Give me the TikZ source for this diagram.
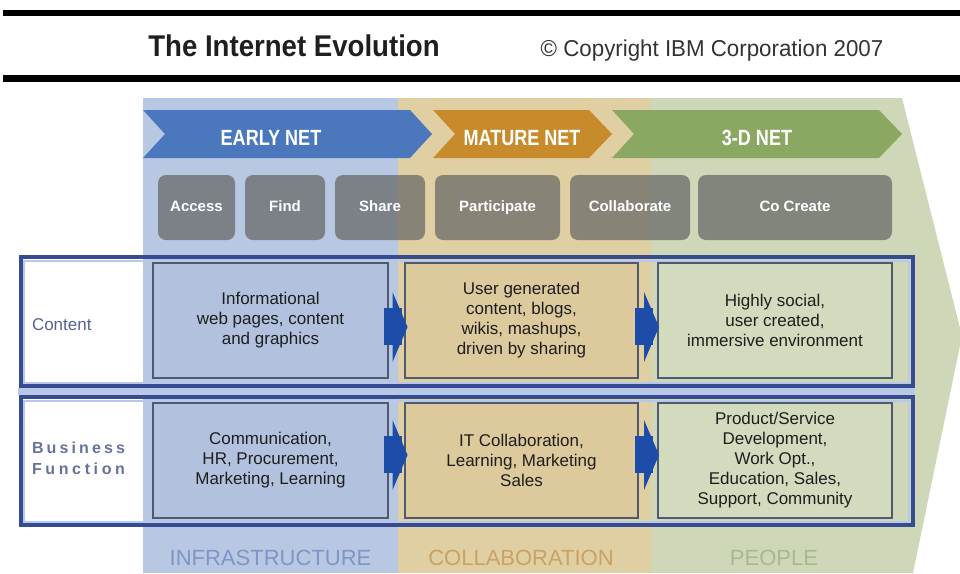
\documentclass[tikz,border=0pt]{standalone}
\usepackage{fontspec}
\setmainfont{Liberation Sans}
\usetikzlibrary{calc}
\definecolor{bgblue}{HTML}{B8C8E2}
\definecolor{bgtan}{HTML}{E0CFA3}
\definecolor{bggreen}{HTML}{CED8B8}
\definecolor{fillblue}{HTML}{B2C2DE}
\definecolor{filltan}{HTML}{DCC99C}
\definecolor{fillgreen}{HTML}{D3DBBE}
\definecolor{inborder}{HTML}{4F5A6E}
\definecolor{banblue}{HTML}{4B78BD}
\definecolor{banorange}{HTML}{C78B2C}
\definecolor{bangreen}{HTML}{8BA862}
\definecolor{btngray}{HTML}{666666}
\definecolor{arrblue}{HTML}{1D4DA8}
\definecolor{outdark}{HTML}{354C92}
\definecolor{outlight}{HTML}{B9C8E6}
\definecolor{textdark}{HTML}{1E1E1E}
\definecolor{labelblue}{HTML}{55628F}
\definecolor{infracol}{HTML}{7F95C8}
\definecolor{collabcol}{HTML}{C9A265}
\definecolor{peoplecol}{HTML}{A9B98E}
\newcommand{\blockarrow}[1]{%
  \fill[arrblue] ($(#1)+(-13,-19)$) rectangle ($(#1)+(5,18)$);
  \fill[arrblue] ($(#1)+(-4,-35)$) -- ($(#1)+(11,0)$) -- ($(#1)+(-4,35)$) -- cycle;}
\begin{document}
\begin{tikzpicture}[x=1pt,y=-1pt,
  every node/.style={inner sep=0pt, outer sep=0pt},
  btn/.style={fill=btngray, fill opacity=0.72, text opacity=1, rounded corners=8pt,
    text=white, font=\bfseries\fontsize{15}{18}\selectfont, minimum height=65,
    text height=11pt, text depth=3pt},
  bantext/.style={text=white, font=\bfseries\fontsize{22}{24}\selectfont, anchor=base},
  inbox/.style={draw=inborder, line width=2.5pt, minimum height=115, align=center,
    text=textdark, font=\fontsize{17}{20}\selectfont},
  outbox/.style={draw=outdark, line width=4pt, minimum width=892},
  rowlabel/.style={text=labelblue, font=\fontsize{17}{20}\selectfont},
  phase/.style={font=\fontsize{22}{26}\selectfont, anchor=base}]
\useasboundingbox (0,0) rectangle (960,573);
% top rules and title
\fill[black] (3,10) rectangle (960,16);
\fill[black] (3,75) rectangle (960,82);
\node[font=\bfseries\fontsize{30}{32}\selectfont, anchor=base, text=black!88] (title) at (294,56) {\scalebox{0.92}[1]{The Internet Evolution}};
\node[font=\fontsize{23}{26}\selectfont, anchor=base, text=black!80] (copy) at (712,56) {\scalebox{0.97}[1]{© Copyright IBM Corporation 2007}};
% background phases
\fill[bgblue] (143,98) rectangle (398,573);
\fill[bgtan] (398,98) rectangle (651,573);
\fill[bggreen] (651,98) -- (902,98) -- (962,336) -- (913,573) -- (651,573) -- cycle;
% banners
\fill[banblue] (143,110) -- (410,110) -- (432,134) -- (410,158) -- (143,158) -- (165,134) -- cycle;
\fill[banorange] (433,110) -- (589,110) -- (612,134) -- (589,158) -- (433,158) -- (455,134) -- cycle;
\fill[bangreen] (612,110) -- (879,110) -- (902,134) -- (879,158) -- (612,158) -- (634,134) -- cycle;
\node[bantext] (early) at (271,145) {\scalebox{0.82}[1]{EARLY NET}};
\node[bantext] (mature) at (522,145) {\scalebox{0.82}[1]{MATURE NET}};
\node[bantext] (threed) at (757,145) {\scalebox{0.82}[1]{3-D NET}};
% buttons
\node[btn, minimum width=77] (access) at (196.5,207.5) {Access};
\node[btn, minimum width=80] (find) at (285,207.5) {Find};
\node[btn, minimum width=90] (share) at (380,207.5) {Share};
\node[btn, minimum width=125] (particip) at (497.5,207.5) {Participate};
\node[btn, minimum width=120] (collab) at (630,207.5) {Collaborate};
\node[btn, minimum width=194] (cocreate) at (795,207.5) {Co Create};
% outer row boxes
\fill[outlight] (18,388) rectangle (915,395);
\node[outbox, minimum height=129] (crow) at (466.5,321.5) {};
\node[outbox, minimum height=128] (brow) at (466.5,461) {};
\draw[outlight, line width=2pt] ($(crow.north west)+(3.5,3.5)$) rectangle ($(crow.south east)+(-3.5,-3.5)$);
\draw[outlight, line width=2pt] ($(brow.north west)+(3.5,3.5)$) rectangle ($(brow.south east)+(-3.5,-3.5)$);
\draw[outdark, line width=4pt] (crow.north west) rectangle (crow.south east);
\draw[outdark, line width=4pt] (brow.north west) rectangle (brow.south east);
% row labels
\node[rowlabel, anchor=west] (lcontent) at (32,325) {Content};
\node[text=labelblue!90!white, font=\bfseries\fontsize{16}{19}\selectfont] (lbus) at (78.5,448)
  {\makebox[93pt][s]{B\hfil u\hfil s\hfil i\hfil n\hfil e\hfil s\hfil s}};
\node[text=labelblue!90!white, font=\bfseries\fontsize{16}{19}\selectfont] (lfun) at (78.5,469)
  {\makebox[93pt][s]{F\hfil u\hfil n\hfil c\hfil t\hfil i\hfil o\hfil n}};
% inner boxes
\node[inbox, fill=fillblue, minimum width=235] (e1) at (270.5,320.5)
  {Informational\\web pages, content\\and graphics};
\node[inbox, fill=filltan, minimum width=233] (m1) at (521.5,320.5)
  {User generated\\content, blogs,\\wikis, mashups,\\driven by sharing};
\node[inbox, fill=fillgreen, minimum width=234] (g1) at (775,320.5)
  {Highly social,\\user created,\\immersive environment};
\node[inbox, fill=fillblue, minimum width=235] (e2) at (270.5,460.5)
  {Communication,\\HR, Procurement,\\Marketing, Learning};
\node[inbox, fill=filltan, minimum width=233] (m2) at (521.5,460.5)
  {IT Collaboration,\\Learning, Marketing\\Sales};
\node[inbox, fill=fillgreen, minimum width=234] (g2) at (775,460.5)
  {Product/Service\\Development,\\Work Opt.,\\Education, Sales,\\Support, Community};
% connectors
\coordinate (a1) at ($(e1.east)!0.5!(m1.west)+(0,6.5)$);
\coordinate (a2) at ($(m1.east)!0.5!(g1.west)+(0,6.5)$);
\coordinate (a3) at ($(e2.east)!0.5!(m2.west)+(0,-5.5)$);
\coordinate (a4) at ($(m2.east)!0.5!(g2.west)+(0,-5.5)$);
\blockarrow{a1}
\blockarrow{a2}
\blockarrow{a3}
\blockarrow{a4}
% phase labels
\node[phase, text=infracol] (infra) at (270.5,565) {INFRASTRUCTURE};
\node[phase, text=collabcol] (collabl) at (521,565) {COLLABORATION};
\node[phase, text=peoplecol] (people) at (774,565) {PEOPLE};
\end{tikzpicture}
\end{document}
